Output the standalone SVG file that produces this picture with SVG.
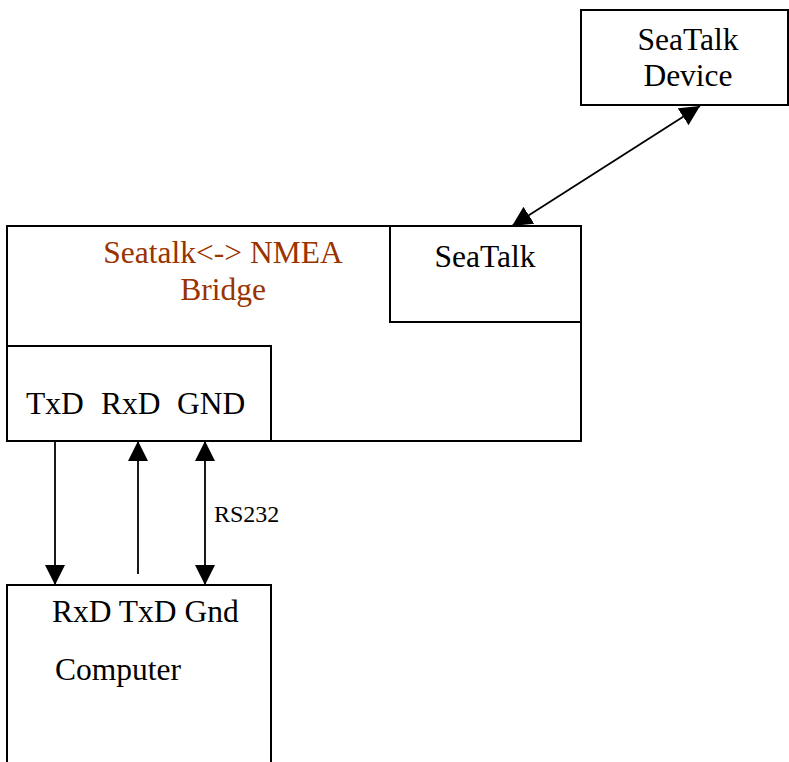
<svg xmlns="http://www.w3.org/2000/svg" width="789" height="762" viewBox="0 0 789 762">
<defs>
<style>
.box{fill:none;stroke:#000;stroke-width:2}
.t{font-family:"Liberation Serif","Times New Roman",serif;font-size:31.5px;fill:#000}
.br{fill:#993300}
.wire{stroke:#000;stroke-width:1.8;fill:none}
</style>
<marker id="ah" markerWidth="20" markerHeight="20" refX="20" refY="10" orient="auto-start-reverse" markerUnits="userSpaceOnUse" viewBox="0 0 20 20">
<path d="M0,0 L20,10 L0,20 Z" fill="#000"/>
</marker>
</defs>
<rect width="789" height="762" fill="#fff"/>
<g id="seatalk-device">
<rect class="box" x="581" y="10" width="207" height="95"/>
<text class="t" x="688" y="50" text-anchor="middle">SeaTalk</text>
<text class="t" x="688" y="86" text-anchor="middle">Device</text>
</g>
<g id="bridge">
<rect class="box" x="7" y="226" width="574" height="215"/>
<text class="t br" x="223" y="263" text-anchor="middle">Seatalk&lt;-&gt; NMEA</text>
<text class="t br" x="223" y="300" text-anchor="middle">Bridge</text>
</g>
<g id="seatalk-port">
<rect class="box" x="390" y="226" width="191" height="96"/>
<text class="t" x="485" y="267" text-anchor="middle">SeaTalk</text>
</g>
<g id="serial-port">
<rect class="box" x="7" y="346" width="264" height="95"/>
<text class="t" y="414"><tspan x="26">TxD</tspan><tspan x="101">RxD</tspan><tspan x="177">GND</tspan></text>
</g>
<g id="computer">
<rect class="box" x="7" y="585" width="264" height="190"/>
<text class="t" x="52" y="622">RxD TxD Gnd</text>
<text class="t" x="55" y="680">Computer</text>
</g>
<g id="connectors">
<line class="wire" x1="512" y1="226" x2="700" y2="106" marker-start="url(#ah)" marker-end="url(#ah)"/>
<line class="wire" x1="55" y1="441" x2="55" y2="585" marker-end="url(#ah)"/>
<line class="wire" x1="138" y1="574" x2="138" y2="441" marker-end="url(#ah)"/>
<line class="wire" x1="205" y1="441" x2="205" y2="585" marker-start="url(#ah)" marker-end="url(#ah)"/>
<text class="t" x="214" y="522" style="font-size:24px">RS232</text>
</g>
</svg>
